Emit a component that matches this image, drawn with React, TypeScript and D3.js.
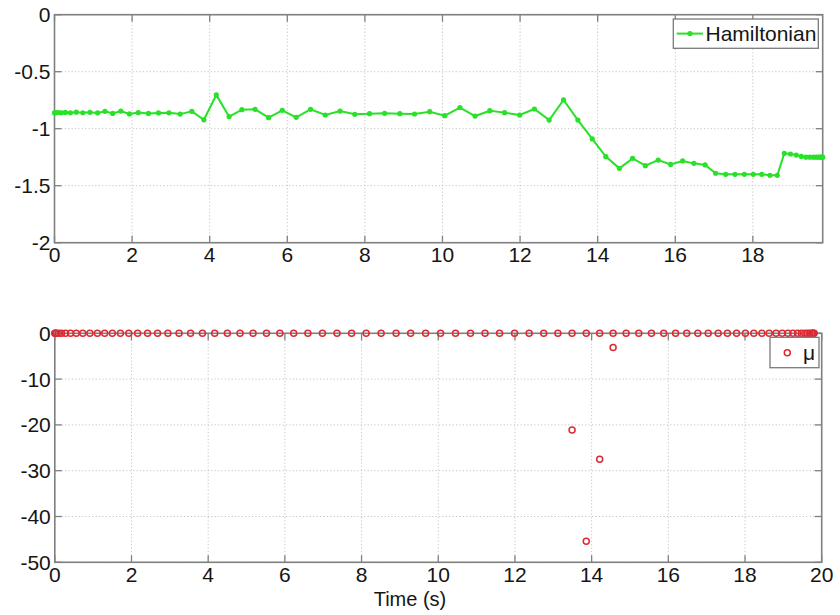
import React from 'react';
import * as d3 from 'd3';

const time = [
  0, 0.01, 0.04, 0.095, 0.175, 0.28, 0.41, 0.56, 0.73, 0.915,
  1.11, 1.3, 1.5, 1.71, 1.93, 2.16, 2.42, 2.68, 2.95, 3.24,
  3.54, 3.85, 4.17, 4.5, 4.83, 5.17, 5.52, 5.87, 6.23, 6.6,
  6.98, 7.36, 7.74, 8.12, 8.51, 8.9, 9.28, 9.67, 10.06, 10.45,
  10.84, 11.22, 11.6, 11.99, 12.37, 12.75, 13.12, 13.49, 13.86, 14.21,
  14.56, 14.9, 15.23, 15.56, 15.88, 16.19, 16.48, 16.77, 17.04, 17.3,
  17.54, 17.78, 18.01, 18.23, 18.44, 18.63, 18.81, 18.97, 19.12, 19.25,
  19.37, 19.47, 19.56, 19.63, 19.69, 19.74, 19.77, 19.79, 19.8,
];

const hamiltonian = [
  -0.86, -0.86, -0.86, -0.858, -0.86, -0.857, -0.86, -0.855, -0.86, -0.856,
  -0.862, -0.848, -0.866, -0.845, -0.87, -0.859, -0.866, -0.862, -0.861, -0.872,
  -0.848, -0.922, -0.704, -0.894, -0.833, -0.83, -0.903, -0.839, -0.9, -0.83,
  -0.88, -0.845, -0.874, -0.868, -0.865, -0.868, -0.871, -0.851, -0.886, -0.815,
  -0.889, -0.842, -0.859, -0.88, -0.827, -0.924, -0.748, -0.924, -1.09, -1.245,
  -1.348, -1.26, -1.324, -1.275, -1.313, -1.283, -1.304, -1.318, -1.391, -1.4,
  -1.4, -1.4, -1.4, -1.4, -1.409, -1.409, -1.216, -1.222, -1.231, -1.243,
  -1.25, -1.25, -1.25, -1.25, -1.25, -1.25, -1.25, -1.25, -1.25,
];

// μ multiplier at each node (inactive constraint -> 0)
const mu = [
  0, 0, 0, 0, 0, 0, 0, 0, 0, 0,
  0, 0, 0, 0, 0, 0, 0, 0, 0, 0,
  0, 0, 0, 0, 0, 0, 0, 0, 0, 0,
  0, 0, 0, 0, 0, 0, 0, 0, 0, 0,
  0, 0, 0, 0, 0, 0, 0, 0, 0, 0,
  0, 0, 0, 0, 0, 0, 0, 0, 0, 0,
  0, 0, 0, 0, 0, 0, 0, 0, 0, 0,
  0, 0, 0, 0, 0, 0, 0, 0, 0,
];

// active μ values (second component)
const muActiveTime = [13.49, 13.86, 14.21, 14.56];
const muActiveValue = [-21.1, -45.4, -27.5, -3.1];

const topXTicks = [0, 2, 4, 6, 8, 10, 12, 14, 16, 18];
const topYTicks = [0, -0.5, -1, -1.5, -2];
const botXTicks = [0, 2, 4, 6, 8, 10, 12, 14, 16, 18, 20];
const botYTicks = [0, -10, -20, -30, -40, -50];

const FONT = '"Liberation Sans", Arial, Helvetica, sans-serif';
const AXIS = '#808080';
const GRID = '#c4c4c4';
const GREEN = 'rgb(40,225,40)';
const RED = '#dc2a33';
const TXT = '#151515';

type PanelProps = {
  x0: number; x1: number; y0: number; y1: number;
  xDomain: [number, number]; yDomain: [number, number];
  xTicks: number[]; yTicks: number[];
  children: (x: d3.ScaleLinear<number, number>, y: d3.ScaleLinear<number, number>) => React.ReactNode;
};

function Panel({ x0, x1, y0, y1, xDomain, yDomain, xTicks, yTicks, children }: PanelProps) {
  const x = d3.scaleLinear().domain(xDomain).range([x0, x1]);
  const y = d3.scaleLinear().domain(yDomain).range([y1, y0]);
  const tl = 7;
  return (
    <g>
      <rect x={x0} y={y0} width={x1 - x0} height={y1 - y0} fill="#fff" />
      {xTicks.map((t) => (
        <line key={'gx' + t} x1={x(t)} x2={x(t)} y1={y0} y2={y1} stroke={GRID} strokeWidth={1} strokeDasharray="1.2 2.2" />
      ))}
      {yTicks.map((t) => (
        <line key={'gy' + t} x1={x0} x2={x1} y1={y(t)} y2={y(t)} stroke={GRID} strokeWidth={1} strokeDasharray="1.2 2.2" />
      ))}
      {xTicks.map((t) => (
        <g key={'tx' + t}>
          <line x1={x(t)} x2={x(t)} y1={y1} y2={y1 - tl} stroke={AXIS} strokeWidth={1.3} />
          <line x1={x(t)} x2={x(t)} y1={y0} y2={y0 + tl} stroke={AXIS} strokeWidth={1.3} />
          <text x={x(t)} y={y1 + 19.5} textAnchor="middle" fontSize={21} fontFamily={FONT} fill={TXT}>{t}</text>
        </g>
      ))}
      {yTicks.map((t) => (
        <g key={'ty' + t}>
          <line x1={x0} x2={x0 + tl} y1={y(t)} y2={y(t)} stroke={AXIS} strokeWidth={1.3} />
          <line x1={x1} x2={x1 - tl} y1={y(t)} y2={y(t)} stroke={AXIS} strokeWidth={1.3} />
          <text x={x0 - 4} y={y(t)} dy="0.36em" textAnchor="end" fontSize={21} fontFamily={FONT} fill={TXT}>{t}</text>
        </g>
      ))}
      <rect x={x0} y={y0} width={x1 - x0} height={y1 - y0} fill="none" stroke={AXIS} strokeWidth={1.6} />
      {children(x, y)}
    </g>
  );
}

export default function App() {
  const pts = time.map((t, i) => ({ t, h: hamiltonian[i], m: mu[i] }));
  const active = muActiveTime.map((t, i) => ({ t, m: muActiveValue[i] }));
  return (
    <div style={{ position: 'absolute', left: 0, top: 0 }}>
      <svg width={840} height={615} style={{ display: 'block', background: '#fff' }}>
        <Panel x0={54.5} x1={822.7} y0={14.7} y1={242.7} xDomain={[0, 19.8]} yDomain={[-2, 0]} xTicks={topXTicks} yTicks={topYTicks}>
          {(x, y) => {
            const line = d3.line<{ t: number; h: number }>().x((d) => x(d.t)).y((d) => y(d.h));
            return (
              <g>
                <path d={line(pts) || ''} fill="none" stroke={GREEN} strokeWidth={2} />
                {pts.map((d, i) => (
                  <circle key={i} cx={x(d.t)} cy={y(d.h)} r={2.6} fill={GREEN} />
                ))}
                <rect x={673.3} y={19} width={145} height={29.3} fill="#fff" stroke="#7a7a7a" strokeWidth={1.3} />
                <line x1={676.7} x2={703} y1={33.6} y2={33.6} stroke={GREEN} strokeWidth={2} />
                <circle cx={690} cy={33.6} r={2.6} fill={GREEN} />
                <text x={705.5} y={41} fontSize={21} fontFamily={FONT} fill={TXT}>Hamiltonian</text>
              </g>
            );
          }}
        </Panel>
        <Panel x0={54.8} x1={821.7} y0={333.3} y1={562.3} xDomain={[0, 20]} yDomain={[-50, 0]} xTicks={botXTicks} yTicks={botYTicks}>
          {(x, y) => (
            <g>
              {pts.map((d, i) => (
                <circle key={'z' + i} cx={x(d.t)} cy={y(d.m)} r={3} fill="none" stroke={RED} strokeWidth={1.5} />
              ))}
              {active.map((d, i) => (
                <circle key={'a' + i} cx={x(d.t)} cy={y(d.m)} r={3} fill="none" stroke={RED} strokeWidth={1.5} />
              ))}
              <rect x={770} y={337.3} width={49} height={30.4} fill="#fff" stroke="#7a7a7a" strokeWidth={1.3} />
              <circle cx={787.3} cy={352.7} r={3} fill="none" stroke={RED} strokeWidth={1.5} />
              <text x={803} y={360} fontSize={21} fontFamily={FONT} fill={TXT}>μ</text>
            </g>
          )}
        </Panel>
        <text x={410} y={606} textAnchor="middle" fontSize={20} fontFamily={FONT} fill={TXT}>Time (s)</text>
      </svg>
    </div>
  );
}
